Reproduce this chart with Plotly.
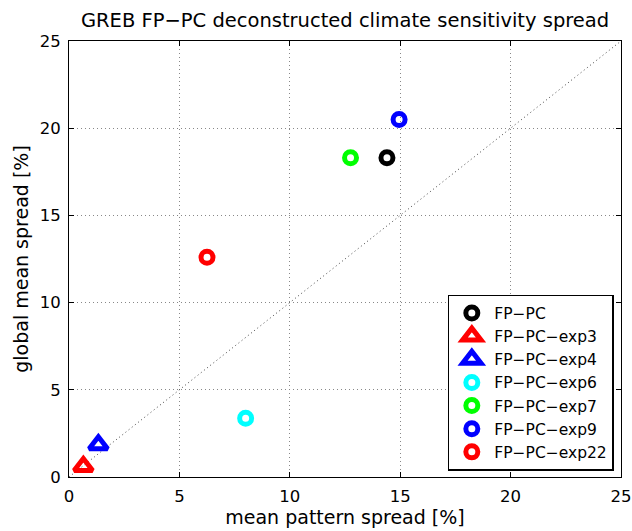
import plotly.graph_objects as go

names = ["FP\u2212PC", "FP\u2212PC\u2212exp3", "FP\u2212PC\u2212exp4", "FP\u2212PC\u2212exp6",
         "FP\u2212PC\u2212exp7", "FP\u2212PC\u2212exp9", "FP\u2212PC\u2212exp22"]
pattern_spread = [14.4, 0.65, 1.33, 8.0, 12.75, 14.95, 6.25]
global_spread = [18.3, 0.6, 1.85, 3.37, 18.3, 20.5, 12.6]
colors = ["#000000", "#ff0000", "#0000ff", "#00ffff", "#00ff00", "#0000ff", "#ff0000"]
symbols = ["circle-open", "triangle-up-open", "triangle-up-open", "circle-open",
           "circle-open", "circle-open", "circle-open"]
diag = [0, 25]
ticks = [0, 5, 10, 15, 20, 25]

FONT = "DejaVu Sans, Liberation Sans, Arial, sans-serif"

fig = go.Figure()
fig.add_trace(go.Scatter(x=diag, y=diag, mode="lines", showlegend=False,
                         line=dict(color="#444444", width=1, dash="1px,3px"), hoverinfo="skip"))
for n, xv, yv, c, s in zip(names, pattern_spread, global_spread, colors, symbols):
    fig.add_trace(go.Scatter(x=[xv], y=[yv], mode="markers", name=n,
                             marker=dict(symbol=s, size=12 if "circle" in s else 16,
                                         color=c, line=dict(color=c, width=5))))

axis_common = dict(range=[0, 25], tickvals=ticks, showline=True, linecolor="black", linewidth=1,
                   mirror="ticks", ticks="inside", ticklen=5, tickcolor="black",
                   showgrid=True, gridcolor="#888888", griddash="1px,3px", gridwidth=1,
                   zeroline=False, tickfont=dict(size=16.5, color="black"),
                   ticklabelstandoff=4,
                   title_font=dict(size=19, color="black"))

fig.update_layout(
    width=632, height=531,
    margin=dict(l=69, r=11, t=41, b=54, autoexpand=False),
    paper_bgcolor="white", plot_bgcolor="white",
    font=dict(family=FONT, color="black"),
    title=dict(text="GREB FP\u2212PC deconstructed climate sensitivity spread",
               x=0.546, xanchor="center", y=0.962, yanchor="middle",
               font=dict(size=19.5, color="black")),
    legend=dict(x=0.987, y=0.014, xanchor="right", yanchor="bottom",
                bordercolor="black", borderwidth=1.5, bgcolor="white",
                font=dict(size=15.5, color="black"), tracegroupgap=0, itemwidth=35),
)
fig.update_xaxes(**axis_common, title_text="mean pattern spread [%]", title_standoff=4)
fig.update_yaxes(**axis_common, title_text="global mean spread [%]", title_standoff=6)

fig.write_html("out.html", config={"displayModeBar": False},
               post_script="document.body.style.margin='0';document.body.style.overflow='hidden';")
